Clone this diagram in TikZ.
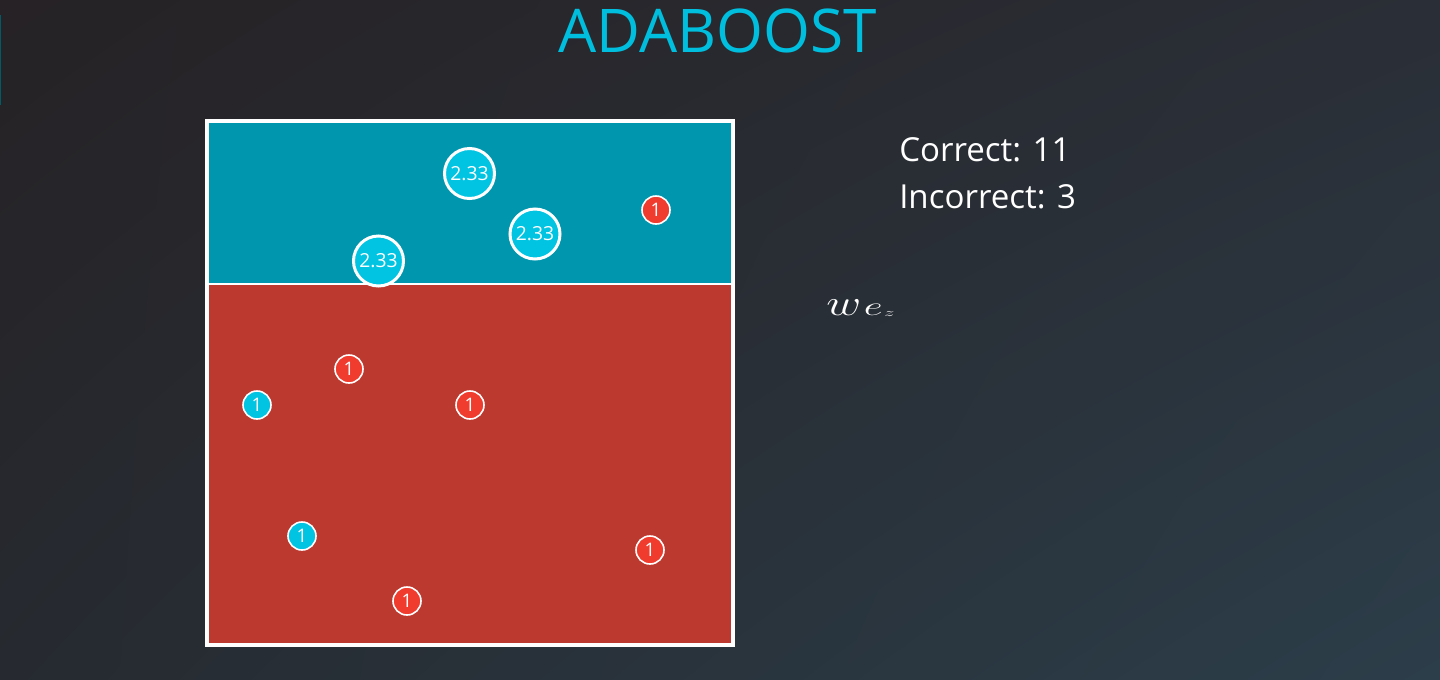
\documentclass[tikz,border=0pt]{standalone}
\usepackage{fontspec}
\setmainfont{Open Sans}
\usetikzlibrary{shadings}
\begin{document}
\definecolor{bgTL}{RGB}{38,34,37}
\definecolor{bgTR}{RGB}{42,46,54}
\definecolor{bgBL}{RGB}{38,42,48}
\definecolor{bgBR}{RGB}{44,62,74}
\definecolor{titlecyan}{RGB}{0,190,222}
\definecolor{topteal}{RGB}{0,150,174}
\definecolor{bottomred}{RGB}{188,57,48}
\definecolor{dotcyan}{RGB}{0,196,226}
\definecolor{dotred}{RGB}{240,60,46}
\begin{tikzpicture}[x=0.75pt,y=-0.75pt,
  bigdot/.style={circle,draw=white,line width=2.25pt,fill=dotcyan,minimum size=37.5pt,inner sep=0pt,text=white,font=\fontsize{14.5}{14.5}\selectfont},
  cdot/.style={circle,draw=white,line width=1.2pt,fill=dotcyan,minimum size=21pt,inner sep=0pt,text=white,font=\fontsize{14}{14}\selectfont},
  rdot/.style={circle,draw=white,line width=1.2pt,fill=dotred,minimum size=21pt,inner sep=0pt,text=white,font=\fontsize{14}{14}\selectfont},
  infotext/.style={text=white,font=\fontsize{24.8}{32}\selectfont,anchor=base west,inner sep=0pt}]
  % background
  \shade[upper left=bgTL,upper right=bgTR,lower left=bgBL,lower right=bgBR] (0,0) rectangle (1440,679);
  \useasboundingbox (0,0) rectangle (1440,679);
  \fill[topteal!60!black] (0,15) rectangle (1.5,105);
  % title
  \node[text=titlecyan,font=\fontsize{45.2}{45}\selectfont,inner sep=0pt] (title) at (718,31) {ADABOOST};
  % decision regions
  \fill[topteal] (206.5,120.5) rectangle (732.5,284);
  \fill[bottomred] (206.5,284) rectangle (732.5,644.5);
  \draw[white,line width=1.5pt] (206.5,284) -- (732.5,284);
  \draw[white,line width=3pt] (206.5,120.5) rectangle (732.5,644.5);
  % weighted points
  \node[bigdot] (b1) at (469.5,173.5) {2.33};
  \node[bigdot] (b2) at (535,234) {2.33};
  \node[bigdot] (b3) at (378.5,261) {2.33};
  \node[rdot] (r1) at (656,210) {1};
  \node[rdot] (r2) at (349,369) {1};
  \node[cdot] (c1) at (257,405) {1};
  \node[rdot] (r3) at (470,405) {1};
  \node[cdot] (c2) at (302,536) {1};
  \node[rdot] (r4) at (650,550) {1};
  \node[rdot] (r5) at (407,601) {1};
  % counts
  \node[infotext] (correct) at (899,161) {Correct: 11};
  \node[infotext] (incorrect) at (899,208) {Incorrect: 3};
  % partial weight formula, stretched wide
  \node[text=white,font=\fontsize{23}{23}\selectfont,anchor=west,inner sep=0pt] (wt) at (826,308)
    {\scalebox{1.45}[1.1]{$w$}\hspace{2pt}\scalebox{1.25}[0.8]{$e$}\hspace{1pt}\raisebox{-1pt}{\scalebox{0.9}[0.5]{$\scriptstyle z$}}};
\end{tikzpicture}
\end{document}
